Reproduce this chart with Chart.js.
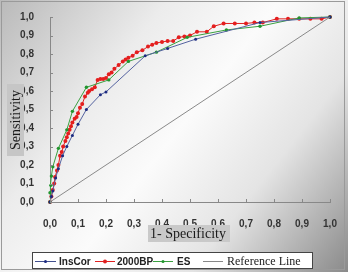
<!DOCTYPE html>
<html>
<head>
<meta charset="utf-8">
<script src="https://cdn.jsdelivr.net/npm/chart.js@4/dist/chart.umd.min.js"></script>
<style>
  html, body { margin: 0; padding: 0; background: #fff; }
  #wrap { width: 348px; height: 272px; position: relative; }
</style>
</head>
<body>
<div id="wrap"><canvas id="roc" width="348" height="272"></canvas></div>
<script>
// ROC points (1 - specificity, sensitivity)
const insCorX = [0, 0.005, 0.01, 0.02, 0.03, 0.045, 0.06, 0.08, 0.1, 0.13, 0.18, 0.2, 0.34, 0.42, 0.52, 0.75, 1]
const insCorY = [0, 0.03, 0.06, 0.13, 0.18, 0.25, 0.3, 0.36, 0.42, 0.5, 0.58, 0.595, 0.79, 0.83, 0.88, 0.97, 1]

const bpX = [0, 0.005, 0.01, 0.015, 0.018, 0.025, 0.03, 0.036, 0.042, 0.047, 0.055, 0.06, 0.065, 0.07, 0.075, 0.08,
  0.088, 0.095, 0.1, 0.107, 0.115, 0.125, 0.135, 0.14, 0.15, 0.16, 0.17, 0.18, 0.19, 0.2, 0.21, 0.22, 0.23, 0.245,
  0.26, 0.27, 0.28, 0.295, 0.31, 0.33, 0.35, 0.365, 0.38, 0.4, 0.42, 0.44, 0.46, 0.48, 0.5, 0.525, 0.56, 0.585,
  0.62, 0.66, 0.7, 0.73, 0.76, 0.81, 0.85, 0.89, 0.93, 0.97, 1]
const bpY = [0, 0.03, 0.065, 0.1, 0.135, 0.17, 0.2, 0.25, 0.27, 0.3, 0.33, 0.35, 0.37, 0.39, 0.41, 0.43,
  0.45, 0.46, 0.48, 0.51, 0.53, 0.57, 0.59, 0.6, 0.61, 0.62, 0.66, 0.665, 0.665, 0.67, 0.69, 0.7, 0.72, 0.74,
  0.76, 0.77, 0.78, 0.79, 0.81, 0.82, 0.84, 0.85, 0.86, 0.865, 0.87, 0.87, 0.89, 0.895, 0.9, 0.92, 0.92, 0.95,
  0.965, 0.965, 0.965, 0.97, 0.97, 0.99, 0.99, 0.99, 0.99, 0.99, 1]

const esX = [0, 0, 0.003, 0.005, 0.01, 0.03, 0.06, 0.08, 0.13, 0.21, 0.28, 0.38, 0.49, 0.63, 0.75, 0.89, 1]
const esY = [0, 0.05, 0.09, 0.14, 0.19, 0.29, 0.39, 0.49, 0.62, 0.66, 0.76, 0.81, 0.89, 0.93, 0.95, 0.995, 1]

const refX = [0, 1]
const refY = [0, 1]

const seriesNames = ['InsCor', '2000BP', 'ES', 'Reference Line']
const xTitle = '1- Specificity'
const yTitle = 'Sensitivity'

const zip = (xs, ys) => xs.map((x, i) => ({ x: x, y: ys[i] }))
const fmt = v => v.toFixed(1).replace('.', ',')

// fondo degradado, marco, titulos de ejes y leyenda
const decor = {
  id: 'decor',
  beforeDraw(chart) {
    const c = chart.ctx
    const g = c.createLinearGradient(0, 0, 348, 272)
    g.addColorStop(0, '#b9b9b9')
    g.addColorStop(0.3, '#ececec')
    g.addColorStop(0.5, '#fbfbfb')
    g.addColorStop(0.72, '#e4e4e4')
    g.addColorStop(1, '#8a8a8a')
    c.save()
    c.fillStyle = g
    c.fillRect(0, 0, chart.width, chart.height)
    c.strokeStyle = '#9a9a9a'
    c.lineWidth = 1
    c.strokeRect(1.5, 1.5, 343, 268)
    c.restore()
  },
  afterDraw(chart) {
    const c = chart.ctx
    const xs = chart.scales.x, ys = chart.scales.y
    const a = chart.chartArea
    c.save()
    // marcas de ticks hacia adentro
    c.strokeStyle = '#888'
    c.lineWidth = 1
    c.beginPath()
    xs.ticks.forEach(t => {
      const px = Math.round(xs.getPixelForValue(t.value)) + 0.5
      c.moveTo(px, a.bottom); c.lineTo(px, a.bottom - 3)
    })
    ys.ticks.forEach(t => {
      const py = Math.round(ys.getPixelForValue(t.value)) + 0.5
      c.moveTo(a.left, py); c.lineTo(a.left + 3, py)
    })
    c.stroke()

    // titulos con caja gris
    c.font = '14px "Liberation Serif", "Times New Roman", serif'
    c.textBaseline = 'middle'
    c.textAlign = 'center'
    c.fillStyle = '#c9c9c9'
    c.fillRect(148, 225, 82, 17)
    c.fillStyle = '#1a1a1a'
    c.fillText(xTitle, 188, 234)

    c.save()
    c.translate(15, 120)
    c.rotate(-Math.PI / 2)
    c.fillStyle = '#c6c6c6'
    c.fillRect(-36, -8, 72, 17)
    c.fillStyle = '#1a1a1a'
    c.fillText(yTitle, 0, 1)
    c.restore()

    // leyenda
    c.fillStyle = '#fff'
    c.fillRect(32, 252, 281, 17)
    c.strokeStyle = '#444'
    c.strokeRect(32.5, 252.5, 280, 16)
    const items = [
      { x0: 35, x1: 56, tx: 59, color: '#1c2a80', line: '#42508f', r: 1.5, font: 'bold 10px "Liberation Sans", Arial, sans-serif' },
      { x0: 95, x1: 115, tx: 117, color: '#e02020', line: '#e02020', r: 2, font: 'bold 10px "Liberation Sans", Arial, sans-serif' },
      { x0: 153, x1: 173, tx: 177, color: '#22952e', line: '#3aa040', r: 1.5, font: 'bold 10px "Liberation Sans", Arial, sans-serif' },
      { x0: 203, x1: 223, tx: 227, color: null, line: '#888', r: 0, font: '12px "Liberation Serif", "Times New Roman", serif' }
    ]
    c.textAlign = 'left'
    items.forEach((it, i) => {
      const y = 261
      c.strokeStyle = it.line
      c.lineWidth = 1
      c.beginPath(); c.moveTo(it.x0, y + 0.5); c.lineTo(it.x1, y + 0.5); c.stroke()
      if (it.color) {
        c.fillStyle = it.color
        c.beginPath(); c.arc((it.x0 + it.x1) / 2, y + 0.5, it.r, 0, Math.PI * 2); c.fill()
      }
      c.fillStyle = '#222'
      c.font = it.font
      c.fillText(seriesNames[i], it.tx, y + 1)
    })
    c.restore()
  }
}

const ctx = document.getElementById('roc').getContext('2d')

new Chart(ctx, {
  type: 'scatter',
  data: {
    datasets: [
      {
        label: seriesNames[3],
        data: zip(refX, refY),
        showLine: true,
        borderColor: '#8a8a8a',
        borderWidth: 1,
        pointRadius: 0
      },
      {
        label: seriesNames[0],
        data: zip(insCorX, insCorY),
        showLine: true,
        borderColor: '#5563a0',
        borderWidth: 1,
        pointRadius: 1.5,
        pointBackgroundColor: '#1c2a80',
        pointBorderWidth: 0
      },
      {
        label: seriesNames[2],
        data: zip(esX, esY),
        showLine: true,
        borderColor: '#3aa040',
        borderWidth: 1,
        pointRadius: 1.7,
        pointBackgroundColor: '#22952e',
        pointBorderWidth: 0
      },
      {
        label: seriesNames[1],
        data: zip(bpX, bpY),
        showLine: true,
        borderColor: '#e02020',
        borderWidth: 1,
        pointRadius: 2,
        pointBackgroundColor: '#e41e1e',
        pointBorderWidth: 0
      }
    ]
  },
  options: {
    responsive: false,
    animation: false,
    clip: false,
    layout: { padding: { left: 0, right: 18, top: 17, bottom: 0 } },
    plugins: { legend: { display: false }, tooltip: { enabled: false } },
    scales: {
      x: {
        type: 'linear', min: 0, max: 1,
        afterFit: s => { s.height = 70 },
        grid: { display: false },
        border: { color: '#888', width: 1 },
        ticks: {
          stepSize: 0.1, padding: 8, color: '#333',
          font: { family: '"Liberation Sans", Arial, sans-serif', size: 10, weight: 'bold' },
          callback: v => fmt(v)
        }
      },
      y: {
        type: 'linear', min: 0, max: 1,
        afterFit: s => { s.width = 50 },
        grid: { display: false },
        border: { color: '#888', width: 1 },
        ticks: {
          stepSize: 0.1, padding: 8, color: '#333',
          font: { family: '"Liberation Sans", Arial, sans-serif', size: 10, weight: 'bold' },
          callback: v => fmt(v)
        }
      }
    }
  },
  plugins: [decor]
})
</script>
</body>
</html>
